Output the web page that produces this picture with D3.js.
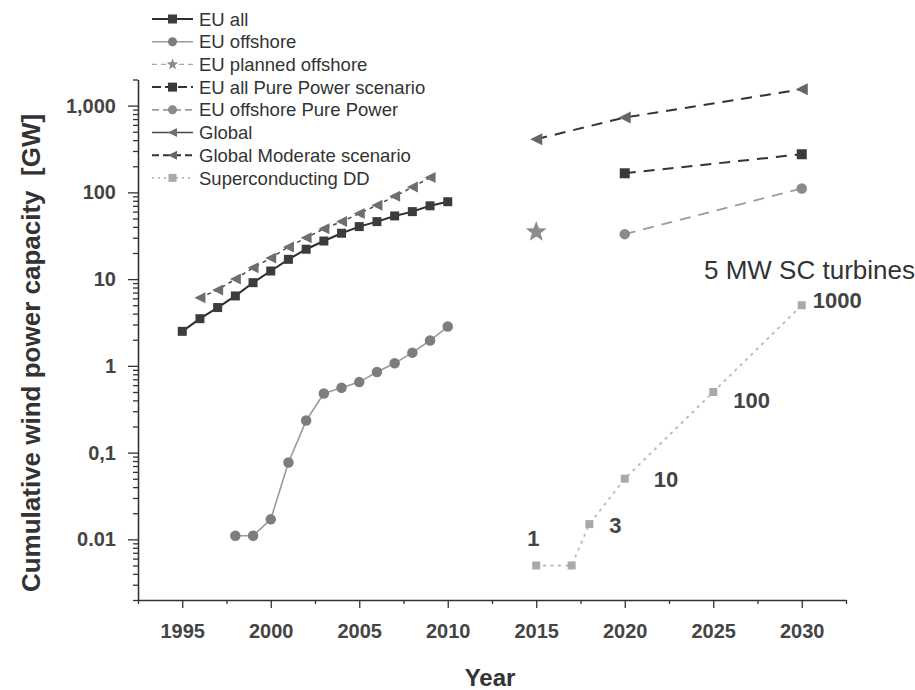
<!DOCTYPE html>
<html>
<head>
<meta charset="utf-8">
<script src="https://cdn.jsdelivr.net/npm/d3@7"></script>
<style>
  html, body { margin: 0; padding: 0; background: #fff; }
  svg { display: block; font-family: "Liberation Sans", Arial, Helvetica, sans-serif; }
</style>
</head>
<body>
<svg id="chart" width="915" height="690"></svg>
<script>
// ---- Data: cumulative wind power capacity, GW ----
const euAllYears = [1995, 1996, 1997, 1998, 1999, 2000, 2001, 2002, 2003, 2004, 2005, 2006, 2007, 2008, 2009, 2010];
const euAllValues = [2.5, 3.5, 4.7, 6.4, 9.1, 12.4, 16.9, 22.1, 27.5, 33.8, 40.3, 46, 53.5, 60, 70, 78];

const euOffshoreYears = [1998, 1999, 2000, 2001, 2002, 2003, 2004, 2005, 2006, 2007, 2008, 2009, 2010];
const euOffshoreValues = [0.011, 0.011, 0.017, 0.077, 0.234, 0.48, 0.56, 0.65, 0.85, 1.07, 1.42, 1.96, 2.84];

const euPlannedOffshoreYears = [2015];
const euPlannedOffshoreValues = [35];

const euAllPureYears = [2020, 2030];
const euAllPureValues = [166, 275];

const euOffshorePureYears = [2020, 2030];
const euOffshorePureValues = [33, 111];

const globalYears = [1996, 1997, 1998, 1999, 2000, 2001, 2002, 2003, 2004, 2005, 2006, 2007, 2008, 2009];
const globalValues = [6.1, 7.5, 10, 13.5, 17.5, 23.5, 30, 38, 46, 57, 71, 90, 115, 148];

const globalModerateYears = [2015, 2020, 2030];
const globalModerateValues = [410, 730, 1540];

// Superconducting direct-drive: number of 5 MW turbines installed
const scYears = [2015, 2017, 2018, 2020, 2025, 2030];
const scTurbines = [1, 1, 3, 10, 100, 1000];
const scTurbineMW = 5;
const scLabels = ["1", "", "3", "10", "100", "1000"];

const legendNames = [
  "EU all", "EU offshore", "EU planned offshore", "EU all Pure Power scenario",
  "EU offshore Pure Power", "Global", "Global Moderate scenario", "Superconducting DD"
];

const xTickYears = [1995, 2000, 2005, 2010, 2015, 2020, 2025, 2030];
const xMinorYears = [1992.5, 1997.5, 2002.5, 2007.5, 2012.5, 2017.5, 2022.5, 2027.5, 2032.5];
const yTickValues = [0.01, 0.1, 1, 10, 100, 1000];
const yTickLabels = ["0.01", "0,1", "1", "10", "100", "1,000"];

// ---- Series table (data + drawing style) ----
const zipSeries = (years, values) => years.map((yr, i) => ({ year: yr, value: values[i] }));

const series = [
  { name: legendNames[0], data: zipSeries(euAllYears, euAllValues),
    marker: "square", mSize: 9, fill: "#3c3c3c", stroke: "#2e2e2e", width: 2, dash: null, legendDash: null },
  { name: legendNames[1], data: zipSeries(euOffshoreYears, euOffshoreValues),
    marker: "circle", mSize: 10.5, fill: "#7d7d7d", stroke: "#9a9a9a", width: 1.6, dash: null, legendDash: null },
  { name: legendNames[2], data: zipSeries(euPlannedOffshoreYears, euPlannedOffshoreValues),
    marker: "star", mSize: 11, fill: "#8a8e8a", stroke: "#a8a8a8", width: 1.4, dash: "5,4", legendDash: "5,4" },
  { name: legendNames[3], data: zipSeries(euAllPureYears, euAllPureValues),
    marker: "square", mSize: 10, fill: "#3a3a3a", stroke: "#333", width: 2, dash: "11,8", legendDash: "9,4" },
  { name: legendNames[4], data: zipSeries(euOffshorePureYears, euOffshorePureValues),
    marker: "circle", mSize: 10.5, fill: "#8a8a8a", stroke: "#9c9c9c", width: 1.8, dash: "11,8", legendDash: "7,4" },
  { name: legendNames[5], data: zipSeries(globalYears, globalValues),
    marker: "triLeft", mSize: 11, fill: "#6e6e6e", stroke: "#4a4a4a", width: 1.5, dash: "4,4", legendDash: null },
  { name: legendNames[6], data: zipSeries(globalModerateYears, globalModerateValues),
    marker: "triLeft", mSize: 12, fill: "#666", stroke: "#333", width: 2, dash: "11,8", legendDash: "7,4" },
  { name: legendNames[7], data: zipSeries(scYears, scTurbines.map(n => n * scTurbineMW / 1000)),
    marker: "square", mSize: 8, fill: "#a9a9a9", stroke: "#b8b8b8", width: 1.8, dash: "1.5,6", legendDash: "2,4" }
];

// ---- Layout ----
const svg = d3.select("#chart");
svg.append("rect").attr("width", 915).attr("height", 690).attr("fill", "#fff");

const x = d3.scaleLinear().domain([1992.5, 2032.5]).range([138, 846]);
const y = d3.scaleLog().domain([0.002, 2000]).range([600, 79.5]);

const axisColor = "#333";

// minor log ticks 2..9 in each decade inside the domain
const yMinor = [];
for (let e = -3; e <= 3; e++) {
  for (let k = 2; k <= 9; k++) {
    const v = k * Math.pow(10, e);
    if (v >= 0.002 && v <= 2000) yMinor.push(v);
  }
}

// Y axis
const gYMinor = svg.append("g").attr("transform", "translate(138,0)")
  .call(d3.axisLeft(y).tickValues(yMinor).tickFormat("").tickSize(5).tickSizeOuter(0));
gYMinor.select(".domain").remove();

const gY = svg.append("g").attr("transform", "translate(138,0)")
  .call(d3.axisLeft(y).tickValues(yTickValues)
    .tickFormat((d, i) => yTickLabels[i]).tickSize(10).tickPadding(12).tickSizeOuter(0));

// X axis
const gXMinor = svg.append("g").attr("transform", "translate(0,600)")
  .call(d3.axisBottom(x).tickValues(xMinorYears).tickFormat("").tickSize(4).tickSizeOuter(0));
gXMinor.select(".domain").remove();

const gX = svg.append("g").attr("transform", "translate(0,600)")
  .call(d3.axisBottom(x).tickValues(xTickYears).tickFormat(d3.format("d"))
    .tickSize(8).tickPadding(16).tickSizeOuter(0));

svg.selectAll(".domain").attr("stroke", axisColor).attr("stroke-width", 1.6);
svg.selectAll(".tick line").attr("stroke", axisColor).attr("stroke-width", 1.3);
svg.selectAll(".tick text")
  .attr("font-family", "Liberation Sans, Arial, sans-serif")
  .attr("font-size", 20).attr("font-weight", "bold").attr("fill", "#444");

// Axis titles
svg.append("text")
  .attr("transform", "translate(40,353) rotate(-90)")
  .attr("text-anchor", "middle")
  .style("white-space", "pre")
  .attr("font-size", 26).attr("font-weight", "bold").attr("fill", "#333")
  .text("Cumulative wind power capacity  [GW]");

svg.append("text")
  .attr("x", 490).attr("y", 686)
  .attr("text-anchor", "middle")
  .attr("font-size", 24).attr("font-weight", "bold").attr("fill", "#333")
  .text("Year");

// ---- Markers ----
function drawMarker(g, type, cx, cy, s, fill) {
  if (type === "square") {
    g.append("rect").attr("x", cx - s / 2).attr("y", cy - s / 2)
      .attr("width", s).attr("height", s).attr("fill", fill);
  } else if (type === "circle") {
    g.append("circle").attr("cx", cx).attr("cy", cy).attr("r", s / 2).attr("fill", fill);
  } else if (type === "triLeft") {
    const h = s / 2;
    g.append("path")
      .attr("d", `M${cx - h},${cy} L${cx + h},${cy - h} L${cx + h},${cy + h} Z`)
      .attr("fill", fill);
  } else if (type === "star") {
    const pts = [];
    for (let i = 0; i < 10; i++) {
      const r = i % 2 === 0 ? s : s * 0.42;
      const a = -Math.PI / 2 + i * Math.PI / 5;
      pts.push([cx + r * Math.cos(a), cy + r * Math.sin(a)]);
    }
    g.append("path").attr("d", "M" + pts.map(p => p.join(",")).join("L") + "Z").attr("fill", fill);
  }
}

// ---- Series lines and points ----
const line = d3.line().x(d => x(d.year)).y(d => y(d.value));
const plot = svg.append("g");

series.forEach(s => {
  if (s.data.length > 1) {
    plot.append("path").datum(s.data)
      .attr("d", line)
      .attr("fill", "none")
      .attr("stroke", s.stroke)
      .attr("stroke-width", s.width)
      .attr("stroke-linecap", s.dash && s.dash.startsWith("1.5") ? "round" : "butt")
      .attr("stroke-dasharray", s.dash);
  }
});
series.forEach(s => {
  const g = plot.append("g");
  s.data.forEach(d => drawMarker(g, s.marker, x(d.year), y(d.value), s.mSize, s.fill));
});

// Turbine count labels on the superconducting series
const scSeries = series[7];
const scLabelOffsets = [[-9, -19], [0, 0], [20, 9], [29, 8], [20, 16], [11, 3]];
scSeries.data.forEach((d, i) => {
  if (!scLabels[i]) return;
  svg.append("text")
    .attr("x", x(d.year) + scLabelOffsets[i][0])
    .attr("y", y(d.value) + scLabelOffsets[i][1])
    .attr("font-size", 22).attr("font-weight", "bold").attr("fill", "#444")
    .text(scLabels[i]);
});

svg.append("text")
  .attr("x", 704).attr("y", 279)
  .attr("font-size", 26).attr("fill", "#333")
  .text("5 MW SC turbines");

// ---- Legend ----
const legend = svg.append("g");
series.forEach((s, i) => {
  const ly = 19 + i * 22.7;
  legend.append("line")
    .attr("x1", 152).attr("x2", 193).attr("y1", ly).attr("y2", ly)
    .attr("stroke", s.stroke).attr("stroke-width", Math.min(s.width, 2))
    .attr("stroke-dasharray", s.legendDash);
  const lg = legend.append("g");
  drawMarker(lg, s.marker, 172.5, ly, s.marker === "star" ? 6 : Math.min(s.mSize, 9), s.fill);
  legend.append("text")
    .attr("x", 199).attr("y", ly).attr("dy", "0.36em")
    .attr("font-size", 18.5).attr("fill", "#333")
    .text(s.name);
});
</script>
</body>
</html>
